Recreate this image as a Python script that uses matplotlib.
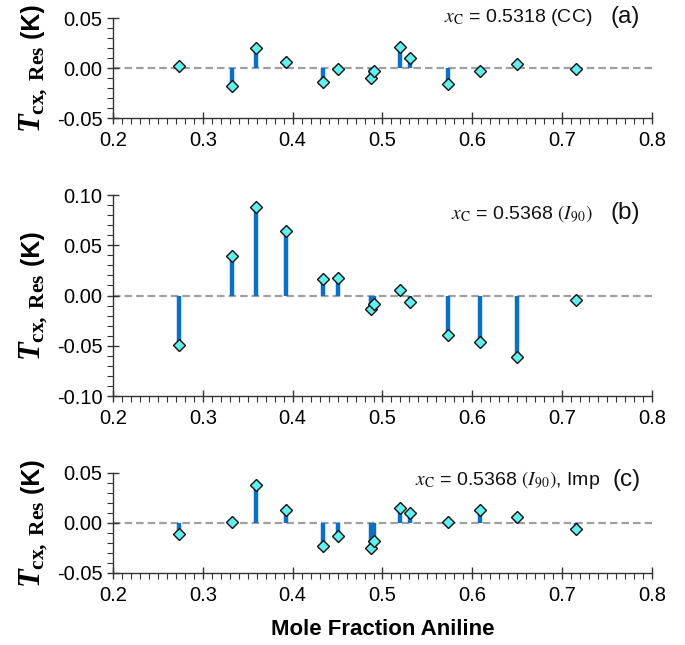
import matplotlib
matplotlib.use("Agg")
import matplotlib.pyplot as plt
from matplotlib.ticker import MultipleLocator
from matplotlib.transforms import offset_copy

plt.rcParams['font.family'] = ['Liberation Sans', 'DejaVu Sans']
plt.rcParams['axes.unicode_minus'] = False
plt.rcParams['mathtext.fontset'] = 'custom'
plt.rcParams['mathtext.rm'] = 'Liberation Serif:weight=bold'
plt.rcParams['mathtext.it'] = 'Liberation Serif:style=italic:weight=bold'
plt.rcParams['mathtext.bf'] = 'Liberation Serif:weight=bold'

# mole fraction aniline of the samples
x_frac = [0.274, 0.333, 0.359, 0.393, 0.434, 0.451, 0.487, 0.491,
          0.519, 0.531, 0.573, 0.608, 0.650, 0.715]

# residuals (K) for the three fits
res_a = [0.0023, -0.0184, 0.0203, 0.0062, -0.0141, -0.0010, -0.0095, -0.0026,
         0.0207, 0.0105, -0.0157, -0.0033, 0.0036, -0.0007]
res_b = [-0.049, 0.0389, 0.0876, 0.0642, 0.0165, 0.0171, -0.0135, -0.0089,
         0.0059, -0.0063, -0.0392, -0.0458, -0.061, -0.0046]
res_c = [-0.0113, 0.0007, 0.0383, 0.0127, -0.0227, -0.0133, -0.0250, -0.0177,
         0.0150, 0.0100, 0.0007, 0.0127, 0.0057, -0.0057]

notes = [r'$x_\mathrm{C}$ = 0.5318 (CC)',
         r'$x_\mathrm{C}$ = 0.5368 $(I_{90})$',
         r'$x_\mathrm{C}$ = 0.5368 $(I_{90})$, Imp']
tags = ['(a)', '(b)', '(c)']
ylims = [(-0.05, 0.05), (-0.10, 0.10), (-0.05, 0.05)]

W, H = 685, 645
fig = plt.figure(figsize=(W / 100, H / 100), dpi=100)

# axes boxes in pixels (top, bottom)
boxes = [(18, 118), (195, 396), (473, 573)]
left, right = 113, 652
note_x = [0.889, 0.889, 0.903]
note_y = [1.01, 0.91, 0.93]

stem_col = '#0a70c8'
mark_col = '#62f0ee'

for i, res in enumerate([res_a, res_b, res_c]):
    top, bot = boxes[i]
    ax = fig.add_axes([left / W, 1 - bot / H, (right - left) / W, (bot - top) / H])
    ax.axhline(0, color='#a0a0a0', lw=1.6, dashes=(3.4, 1.8), zorder=1)
    ax.vlines(x_frac, 0, res, color=stem_col, lw=3.2, zorder=2)
    ax.plot(x_frac, res, 'D', ms=5.8, mfc=mark_col, mec='#111111', mew=1.0, zorder=3)

    ax.set_xlim(0.2, 0.8)
    ax.set_ylim(*ylims[i])
    ax.xaxis.set_major_locator(MultipleLocator(0.1))
    ax.xaxis.set_minor_locator(MultipleLocator(0.01))
    ax.yaxis.set_major_locator(MultipleLocator(0.05))
    ax.yaxis.set_minor_locator(MultipleLocator(0.01))
    ax.yaxis.set_major_formatter(plt.FuncFormatter(lambda v, p: f'{v:.2f}'.replace('-0.00', '0.00')))
    ax.xaxis.set_major_formatter(plt.FuncFormatter(lambda v, p: f'{v:.1f}'))
    for s in ['top', 'right']:
        ax.spines[s].set_visible(False)
    for s in ['left', 'bottom']:
        ax.spines[s].set_color('#333333')
        ax.spines[s].set_linewidth(1.0)
    ax.tick_params(which='major', direction='inout', length=9, width=1.0,
                   color='#333333', labelsize=14.5, pad=3)
    ax.tick_params(which='minor', direction='out', length=4, width=0.8, color='#333333')
    ax.tick_params(axis='x', which='major', pad=5)

    # y label: big bold-italic T with serif subscript, then sans "(K)"
    anchor = offset_copy(ax.transAxes, fig=fig, x=0, y=16, units='points')
    ax.text(-0.135, 0.5, r'$T_{\mathrm{cx,\ Res}}$', transform=anchor, rotation=90,
            rotation_mode='anchor', ha='right', va='baseline', fontsize=22)
    ax.text(-0.135, 0.5, ' (K)', transform=anchor, rotation=90,
            rotation_mode='anchor', ha='left', va='baseline', fontsize=18,
            fontweight='bold')

    ax.text(note_x[i], note_y[i], notes[i], transform=ax.transAxes, ha='right',
            va='center', fontsize=14, math_fontfamily='stix', color='#111111')
    ax.text(0.978, note_y[i], tags[i], transform=ax.transAxes, ha='right',
            va='center', fontsize=17.5, color='#111111')

    if i == 2:
        ax.set_xlabel('Mole Fraction Aniline', fontsize=16, fontweight='bold', labelpad=10)

fig.savefig('out.png', dpi=100)
